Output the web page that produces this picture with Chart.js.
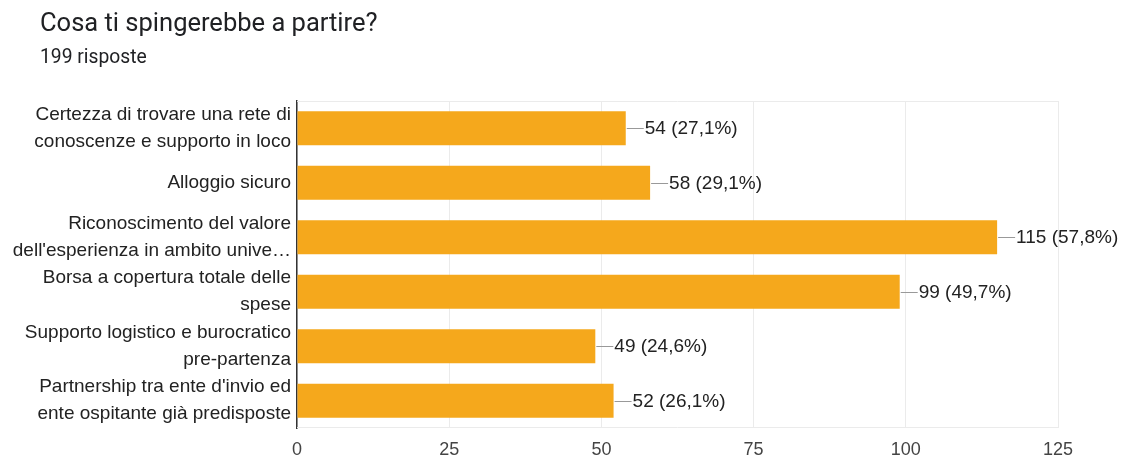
<!DOCTYPE html>
<html>
<head>
<meta charset="utf-8">
<script src="https://cdn.jsdelivr.net/npm/chart.js@4"></script>
<style>
  html, body { margin: 0; padding: 0; background: #fff; }
  #wrap { width: 1122px; height: 459px; }
</style>
</head>
<body>
<div id="wrap"><canvas id="chart" width="1122" height="459"></canvas></div>
<script>
  const titleText = "Cosa ti spingerebbe a partire?";
  const totalAnswers = 199;

  const categories = [
    ["Certezza di trovare una rete di", "conoscenze e supporto in loco"],
    ["Alloggio sicuro"],
    ["Riconoscimento del valore", "dell'esperienza in ambito unive…"],
    ["Borsa a copertura totale delle", "spese"],
    ["Supporto logistico e burocratico", "pre-partenza"],
    ["Partnership tra ente d'invio ed", "ente ospitante già predisposte"],
  ];
  const counts = [54, 58, 115, 99, 49, 52];
  const xTicks = [0, 25, 50, 75, 100, 125];

  const chartFont = "'Liberation Sans', Arial, sans-serif";

  // form-style heading: question + number of answers, left aligned
  const heading = {
    id: "heading",
    afterDraw(chart) {
      const { ctx } = chart;
      ctx.save();
      ctx.fillStyle = "#202124";
      ctx.textBaseline = "middle";
      ctx.font = "25.5px Roboto";
      ctx.fillText(titleText, 40, 25);
      ctx.font = "19.3px Roboto";
      ctx.fillText(totalAnswers + " risposte", 40, 58);
      ctx.restore();
    },
  };

  // "54 (27,1%)" style labels with a short leader line after each bar
  const valueLabels = {
    id: "valueLabels",
    afterDatasetsDraw(chart) {
      const { ctx } = chart;
      const meta = chart.getDatasetMeta(0);
      ctx.save();
      ctx.font = "19px " + chartFont;
      ctx.textBaseline = "middle";
      meta.data.forEach((bar, i) => {
        const v = counts[i];
        const pct = ((v / totalAnswers) * 100).toFixed(1).replace(".", ",");
        const x = bar.x + 1;
        const y = Math.round(bar.y) + 0.5;
        ctx.strokeStyle = "#999";
        ctx.lineWidth = 1;
        ctx.beginPath();
        ctx.moveTo(x, y);
        ctx.lineTo(x + 17, y);
        ctx.stroke();
        ctx.fillStyle = "#222";
        ctx.fillText(`${v} (${pct}%)`, x + 18, bar.y + 1);
      });
      ctx.restore();
    },
  };

  // light lines on the top and bottom of the plot area
  const plotFrame = {
    id: "plotFrame",
    beforeDatasetsDraw(chart) {
      const { ctx, chartArea: a } = chart;
      ctx.save();
      ctx.strokeStyle = "#ebebeb";
      ctx.lineWidth = 1;
      ctx.beginPath();
      ctx.moveTo(a.left, a.top + 0.5);
      ctx.lineTo(a.right, a.top + 0.5);
      ctx.moveTo(a.left, a.bottom - 0.5);
      ctx.lineTo(a.right, a.bottom - 0.5);
      ctx.stroke();
      ctx.restore();
    },
  };

  new Chart(document.getElementById("chart"), {
    type: "bar",
    data: {
      labels: categories,
      datasets: [
        {
          data: counts,
          backgroundColor: "#f5a81c",
          barPercentage: 0.62,
          categoryPercentage: 1,
        },
      ],
    },
    options: {
      indexAxis: "y",
      responsive: false,
      animation: false,
      layout: { padding: { left: 0, right: 64, bottom: 0, top: 101 } },
      plugins: {
        legend: { display: false },
        tooltip: { enabled: false },
        title: { display: false },
      },
      scales: {
        x: {
          min: 0,
          max: 125,
          afterBuildTicks(scale) {
            scale.ticks = xTicks.map((v) => ({ value: v }));
          },
          afterFit(scale) {
            scale.height = 31;
          },
          grid: { color: "#ebebeb", drawTicks: false },
          border: { display: false },
          ticks: {
            padding: 11,
            color: "#444",
            font: { family: chartFont, size: 18 },
          },
        },
        y: {
          afterFit(scale) {
            scale.width = 297;
            // two-line labels shouldn't push the plot edges
            scale.paddingTop = 0;
            scale.paddingBottom = 0;
          },
          grid: { display: false, drawTicks: false },
          border: { display: true, color: "#333", width: 1.5 },
          ticks: {
            autoSkip: false,
            padding: 6,
            color: "#222",
            font: { family: chartFont, size: 19, lineHeight: 1.42 },
          },
        },
      },
    },
    plugins: [plotFrame, valueLabels, heading],
  });
</script>
</body>
</html>
